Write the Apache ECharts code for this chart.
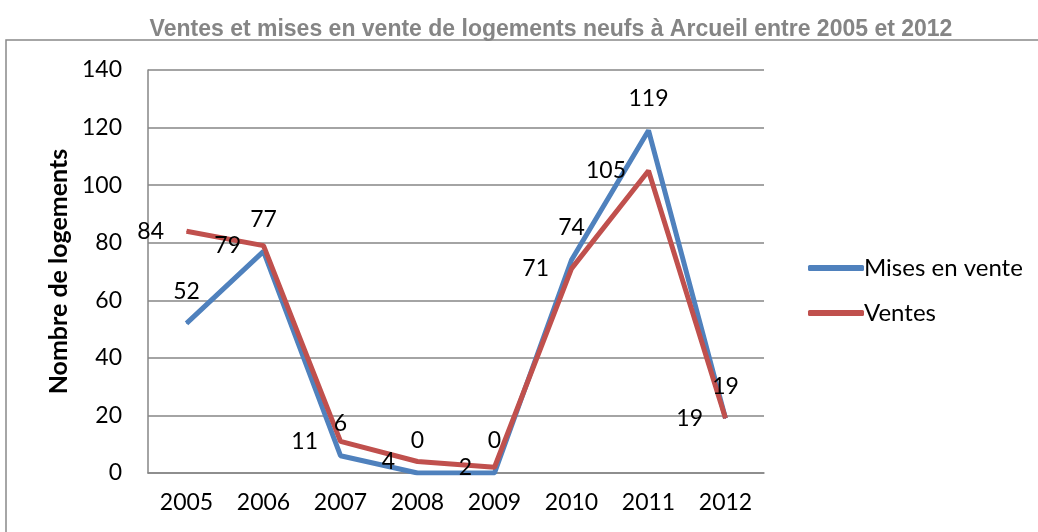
<!DOCTYPE html>
<html>
<head>
<meta charset="utf-8">
<script src="https://cdn.jsdelivr.net/npm/echarts@6/dist/echarts.min.js"></script>
<style>
  html, body { margin: 0; padding: 0; background: #fff; }
  #chart { width: 1038px; height: 532px; }
</style>
</head>
<body>
<div id="chart"></div>
<script>
  // données
  var years = ['2005', '2006', '2007', '2008', '2009', '2010', '2011', '2012']
  var misesEnVente = [52, 77, 6, 0, 0, 74, 119, 19]
  var ventes = [84, 79, 11, 4, 2, 71, 105, 19]
  var yTicks = [0, 20, 40, 60, 80, 100, 120, 140]

  var font = 'Lato, "Noto Sans", sans-serif'

  var myChart = echarts.init(document.getElementById('chart'))
  myChart.setOption({
    animation: false,
    textStyle: { fontFamily: font },
    title: {
      text: 'Ventes et mises en vente de logements neufs à Arcueil entre 2005 et 2012',
      left: 546,
      top: 13,
      textAlign: 'center',
      textStyle: {
        fontFamily: '"Liberation Sans", Arial, sans-serif',
        fontSize: 23,
        fontWeight: 'bold',
        color: '#858585'
      }
    },
    // cadre extérieur
    graphic: [{
      type: 'rect',
      shape: { x: 6, y: 40, width: 1040, height: 500 },
      style: { fill: 'none', stroke: '#898989', lineWidth: 1.5 },
      silent: true
    }],
    legend: {
      orient: 'vertical',
      left: 803,
      top: 251,
      itemGap: 21,
      itemWidth: 56,
      itemHeight: 6,
      icon: 'roundRect',
      textStyle: { fontFamily: font, fontSize: 24, color: '#000', padding: [0, 0, 0, -5] },
      data: ['Mises en vente', 'Ventes']
    },
    grid: {
      left: 148,
      right: 274,
      top: 70,
      bottom: 59
    },
    xAxis: {
      type: 'category',
      data: years,
      boundaryGap: true,
      axisLine: { lineStyle: { color: '#868686', width: 1.5 } },
      axisTick: { show: false },
      axisLabel: { fontFamily: font, fontSize: 23, color: '#000', margin: 18 }
    },
    yAxis: {
      type: 'value',
      min: yTicks[0],
      max: yTicks[yTicks.length - 1],
      interval: 20,
      name: 'Nombre de logements',
      nameLocation: 'middle',
      nameGap: 74,
      nameTextStyle: { fontFamily: font, fontSize: 25, fontWeight: 'bold', color: '#000' },
      axisLine: { show: true, lineStyle: { color: '#868686', width: 1.5 } },
      axisTick: { show: false },
      axisLabel: { fontFamily: font, fontSize: 23, color: '#000', margin: 26 },
      splitLine: { lineStyle: { color: '#868686', width: 1.5 } }
    },
    series: [
      {
        name: 'Mises en vente',
        type: 'line',
        data: misesEnVente,
        symbol: 'circle',
        symbolSize: 1,
        showSymbol: true,
        lineStyle: { color: '#4F81BD', width: 5 },
        itemStyle: { color: '#4F81BD' },
        label: {
          show: true,
          position: 'top',
          distance: 20,
          fontFamily: font,
          fontSize: 23,
          color: '#000'
        }
      },
      {
        name: 'Ventes',
        type: 'line',
        data: ventes,
        symbol: 'circle',
        symbolSize: 1,
        showSymbol: true,
        lineStyle: { color: '#C0504D', width: 5 },
        itemStyle: { color: '#C0504D' },
        label: {
          show: true,
          position: 'left',
          distance: 22,
          fontFamily: font,
          fontSize: 23,
          color: '#000'
        }
      }
    ]
  })
</script>
</body>
</html>
